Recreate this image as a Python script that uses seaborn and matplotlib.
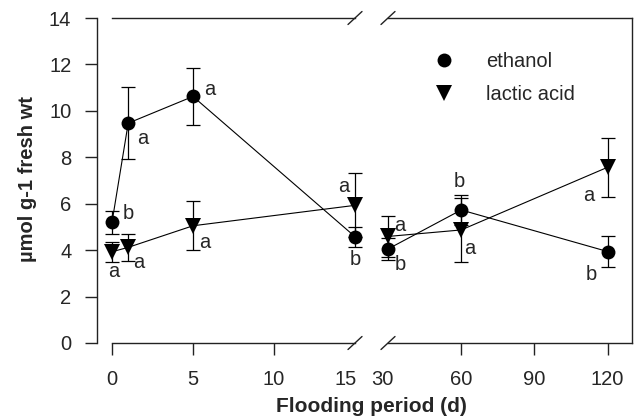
import matplotlib
matplotlib.use("Agg")
import matplotlib.pyplot as plt
import matplotlib.transforms as mtransforms
import pandas as pd
import seaborn as sns
from matplotlib.lines import Line2D

# data
days = [0, 1, 5, 15, 30, 60, 120]
ethanol = [5.2, 9.47, 10.62, 4.58, 4.05, 5.73, 3.94]
ethanol_err = [0.5, 1.55, 1.22, 0.43, 0.47, 0.65, 0.65]
ethanol_sig = ["b", "a", "a", "b", "b", "b", "b"]
lactic = [3.93, 4.12, 5.05, 5.93, 4.59, 4.87, 7.57]
lactic_err = [0.42, 0.58, 1.05, 1.38, 0.9, 1.36, 1.26]
lactic_sig = ["a", "a", "a", "a", "a", "a", "a"]

# letter offsets (pixels, x right / y up) next to each point
ethanol_off = [(16, 9), (15, -15), (17, 7), (0, -23), (12, -16), (-2, 28), (-16, -23)]
lactic_off = [(2, -20), (11, -15), (12, -17), (-11, 19), (12, 11), (9, -19), (-19, -28)]

df = pd.concat([
    pd.DataFrame({"day": days, "value": ethanol, "err": ethanol_err,
                  "sig": ethanol_sig, "compound": "ethanol"}),
    pd.DataFrame({"day": days, "value": lactic, "err": lactic_err,
                  "sig": lactic_sig, "compound": "lactic acid"}),
], ignore_index=True)

sns.set_theme(style="ticks")
plt.rcParams["font.family"] = ["Liberation Sans", "DejaVu Sans"]
FS = 14.5

MARKERS = {"ethanol": "o", "lactic acid": "v"}
SIZES = {"ethanol": 10, "lactic acid": 11}
OFFSETS = {"ethanol": ethanol_off, "lactic acid": lactic_off}

W, H = 636, 420
fig = plt.figure(figsize=(W / 100, H / 100), dpi=100)
bottom, height = (H - 343) / H, 325 / H
ax_l = fig.add_axes([112 / W, bottom, (355 - 112) / W, height])
ax_r = fig.add_axes([388 / W, bottom, (632 - 388) / W, height])


def draw(ax, sub):
    for name, grp in sub.groupby("compound"):
        sns.lineplot(data=grp, x="day", y="value", marker=MARKERS[name],
                     color="black", markersize=SIZES[name], markeredgewidth=0,
                     linewidth=0.8, errorbar=None, ax=ax, clip_on=False,
                     zorder=3)
    ax.errorbar(sub["day"], sub["value"], yerr=sub["err"], fmt="none",
                ecolor="black", elinewidth=0.9, capsize=5, capthick=0.9,
                clip_on=False, zorder=2)
    for _, r in sub.iterrows():
        i = days.index(r["day"])
        dx, dy = OFFSETS[r["compound"]][i]
        ax.annotate(r["sig"], (r["day"], r["value"]), xytext=(dx, dy),
                    textcoords="offset pixels", ha="center", va="center",
                    fontsize=FS, annotation_clip=False)


draw(ax_l, df[df["day"] <= 15])
draw(ax_r, df[df["day"] >= 30])

for ax in (ax_l, ax_r):
    ax.set_ylim(0, 14)
    ax.set_xlabel("")
    ax.set_ylabel("")
    for s in ax.spines.values():
        s.set_linewidth(1.0)
        s.set_color("#222222")
    ax.tick_params(axis="both", length=8.5, width=1.0, color="#222222",
                   labelsize=FS, pad=11)

ax_l.set_xlim(0, 15)
ax_l.set_xticks([0, 5, 10, 15])
ax_l.set_yticks(range(0, 15, 2))
ax_l.spines["right"].set_visible(False)
ax_l.spines["left"].set_position(("outward", 10.8))
ax_l.tick_params(axis="y", pad=10)

ax_r.set_xlim(30, 130)
ax_r.set_xticks([30, 60, 90, 120])
ax_r.spines["left"].set_visible(False)
ax_r.tick_params(axis="y", left=False, labelleft=False)

# no tick marks at the break, labels nudged left a little
ax_l.xaxis.get_major_ticks()[-1].tick1line.set_visible(False)
ax_r.xaxis.get_major_ticks()[0].tick1line.set_visible(False)
for ax, idx, shift in ((ax_l, -1, -9), (ax_r, 0, -5.5)):
    lab = ax.get_xticklabels()[idx]
    lab.set_transform(lab.get_transform() +
                      mtransforms.ScaledTranslation(shift / 100, 0, fig.dpi_scale_trans))

# break marks
for ax, x in ((ax_l, 1.0), (ax_r, 0.0)):
    dx = 7 / (ax.get_position().width * W)
    dy = 6.5 / (height * H)
    for y in (0, 1):
        ax.plot([x - dx, x + dx], [y - dy, y + dy], transform=ax.transAxes,
                color="#222222", lw=1.0, clip_on=False)

handles = [Line2D([], [], marker=MARKERS[k], color="black", linestyle="none",
                  markersize=SIZES[k], markeredgewidth=0, label=k) for k in MARKERS]
fig.legend(handles=handles, loc="upper left", bbox_to_anchor=(416 / W, 1 - 44 / H),
           frameon=False, fontsize=FS, handletextpad=1.1, labelspacing=0.68,
           borderaxespad=0)

fig.text(371 / W, 1 - 407 / H, "Flooding period (d)", ha="center", va="center",
         fontsize=15, fontweight="bold")
fig.text(28 / W, 1 - 179 / H, "µmol g-1 fresh wt", ha="center", va="center",
         rotation=90, fontsize=FS, fontweight="bold")

fig.savefig("out.png", dpi=100)
